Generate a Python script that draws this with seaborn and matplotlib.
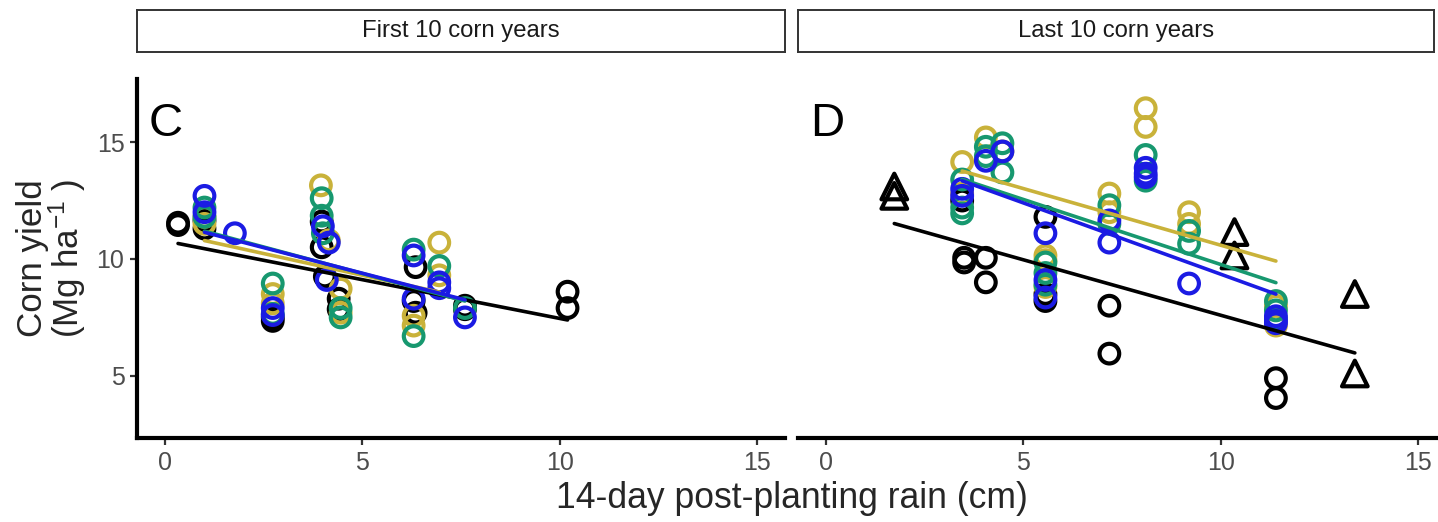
import numpy as np
import pandas as pd
import matplotlib
matplotlib.use("Agg")
import matplotlib.pyplot as plt
import seaborn as sns

# panel C - first 10 corn years (x = rain cm, y = yield Mg/ha)
c_black_x = [0.33, 0.33, 1.0, 1.0, 2.73, 2.73, 3.97, 3.97, 4.05, 4.40, 4.40, 6.35, 6.35, 6.30, 7.60, 7.60, 10.2, 10.2]
c_black_y = [11.55, 11.45, 11.65, 11.3, 7.5, 7.35, 11.6, 10.5, 9.25, 8.3, 7.85, 9.65, 7.7, 8.2, 8.0, 7.85, 8.6, 7.9]
c_gold_x = [1.0, 1.0, 2.73, 2.73, 3.95, 4.15, 4.45, 4.45, 6.3, 6.3, 6.95, 6.95]
c_gold_y = [11.8, 11.5, 8.5, 8.1, 13.15, 10.8, 8.73, 7.7, 7.57, 7.15, 10.7, 9.3]
c_green_x = [1.0, 1.0, 2.73, 2.73, 3.97, 3.97, 4.0, 4.45, 4.45, 6.3, 6.3, 6.95, 7.6]
c_green_y = [12.2, 11.8, 8.95, 7.65, 12.6, 11.85, 11.1, 7.9, 7.5, 10.4, 6.7, 9.7, 7.9]
c_blue_x = [1.0, 1.0, 1.77, 2.73, 2.73, 4.0, 4.1, 4.15, 6.3, 6.3, 6.95, 6.95, 7.6]
c_blue_y = [12.7, 12.0, 11.1, 7.9, 7.6, 11.4, 9.1, 10.7, 10.15, 8.3, 9.0, 8.75, 7.5]

# panel D - last 10 corn years
d_black_x = [3.45, 3.5, 3.5, 4.05, 4.05, 5.56, 5.56, 5.56, 7.18, 7.18, 11.4, 11.4]
d_black_y = [12.5, 10.05, 9.85, 10.05, 9.0, 11.8, 8.5, 8.2, 8.0, 5.95, 4.9, 4.05]
d_tri_x = [1.73, 1.73, 10.35, 10.35, 13.4, 13.4]
d_tri_y = [13.1, 12.7, 11.15, 10.15, 8.5, 5.1]
d_gold_x = [3.45, 3.45, 4.05, 4.47, 5.56, 5.56, 5.56, 7.18, 7.18, 8.1, 8.1, 9.2, 9.2, 11.4, 11.4]
d_gold_y = [14.15, 12.8, 15.2, 14.6, 10.15, 9.95, 8.8, 12.8, 12.0, 16.45, 15.65, 12.0, 11.5, 8.0, 7.15]
d_green_x = [3.45, 3.45, 3.45, 4.05, 4.05, 4.47, 4.47, 5.56, 5.56, 5.56, 7.18, 7.18, 8.1, 8.1, 9.2, 9.2, 11.4, 11.4, 11.4]
d_green_y = [13.4, 12.2, 11.95, 14.8, 14.4, 14.95, 13.7, 9.85, 9.4, 8.9, 12.3, 11.5, 14.45, 13.35, 11.2, 10.65, 8.2, 7.8, 7.45]
d_blue_x = [3.45, 3.45, 4.05, 4.47, 5.56, 5.56, 5.56, 7.18, 7.18, 8.1, 8.1, 8.1, 9.2, 11.4, 11.4, 11.4]
d_blue_y = [13.0, 12.7, 14.2, 14.6, 11.1, 9.1, 8.35, 11.65, 10.7, 13.9, 13.65, 13.5, 8.95, 7.55, 7.35, 7.25]

panel_titles = ["First 10 corn years", "Last 10 corn years"]
panel_letters = ["C", "D"]
x_ticks = [0, 5, 10, 15]
y_ticks = [5, 10, 15]

colors = {"black": "#000000", "gold": "#C9B23A", "green": "#17986F", "blue": "#1B1BE3"}


def to_frame(panel, group, shape, xs, ys):
    return pd.DataFrame({"panel": panel, "group": group, "shape": shape, "x": xs, "y": ys})


df = pd.concat([
    to_frame("C", "black", "o", c_black_x, c_black_y),
    to_frame("C", "gold", "o", c_gold_x, c_gold_y),
    to_frame("C", "green", "o", c_green_x, c_green_y),
    to_frame("C", "blue", "o", c_blue_x, c_blue_y),
    to_frame("D", "black", "o", d_black_x, d_black_y),
    to_frame("D", "black", "^", d_tri_x, d_tri_y),
    to_frame("D", "gold", "o", d_gold_x, d_gold_y),
    to_frame("D", "green", "o", d_green_x, d_green_y),
    to_frame("D", "blue", "o", d_blue_x, d_blue_y),
], ignore_index=True)

sns.set_style("ticks")
plt.rcParams["font.family"] = ["Liberation Sans", "DejaVu Sans"]
plt.rcParams["mathtext.default"] = "regular"

W, H = 1438, 522
fig = plt.figure(figsize=(W / 200, H / 200), dpi=200)

ax_left = [137 / W, 798 / W]
ax_w = 648 / W
ax_bottom = 1 - 438 / H
ax_h = 359 / H

for i, panel in enumerate(["C", "D"]):
    ax = fig.add_axes([ax_left[i], ax_bottom, ax_w, ax_h])
    pdf = df[df["panel"] == panel]

    # points
    for group in ["black", "gold", "green", "blue"]:
        for shape, s in [("o", 50), ("^", 85)]:
            sub = pdf[(pdf["group"] == group) & (pdf["shape"] == shape)]
            if len(sub) == 0:
                continue
            sns.scatterplot(data=sub, x="x", y="y", ax=ax, marker=shape, s=s,
                            color=colors[group], facecolors="none", edgecolor=colors[group],
                            linewidth=1.5, legend=False, zorder=3)

    # regression lines
    for group in ["black", "gold", "green", "blue"]:
        sub = pdf[pdf["group"] == group]
        sns.regplot(data=sub, x="x", y="y", ax=ax, scatter=False, ci=None, truncate=True,
                    color=colors[group], line_kws={"linewidth": 1.3, "zorder": 4})

    ax.set_xlim(-0.71, 15.71)
    ax.set_ylim(2.34, 17.7)
    ax.set_xticks(x_ticks)
    ax.set_yticks(y_ticks)
    ax.set_xlabel("")
    ax.set_ylabel("")
    ax.tick_params(axis="both", length=2.5, width=0.8, color="#333333",
                   labelsize=9, labelcolor="#4D4D4D", pad=2)
    for side in ["top", "right"]:
        ax.spines[side].set_visible(False)
    for side in ["bottom", "left"]:
        ax.spines[side].set_linewidth(1.5)
        ax.spines[side].set_color("black")
    if i == 1:
        ax.spines["left"].set_visible(False)
        ax.tick_params(axis="y", left=False, labelleft=False)

    ax.text(0.018, 0.875, panel_letters[i], transform=ax.transAxes, fontsize=17,
            ha="left", va="center", color="black")

    # facet strip
    strip_w = ax_w if i == 0 else (1434 - 798) / W
    sax = fig.add_axes([ax_left[i], 1 - 52 / H, strip_w, 42 / H])
    sax.set_xticks([])
    sax.set_yticks([])
    sax.set_facecolor("white")
    for sp in sax.spines.values():
        sp.set_linewidth(0.7)
        sp.set_color("#333333")
    sax.text(0.5, 0.5, panel_titles[i], ha="center", va="center", fontsize=8.6,
             color="#1A1A1A", transform=sax.transAxes)

fig.text(792 / W, 1 - 508 / H, "14-day post-planting rain (cm)", ha="center",
         va="baseline", fontsize=12.8)
fig.text(52 / W, 1 - 258 / H, "Corn yield\n(Mg ha$^{-1}$ )", rotation=90,
         ha="center", va="center", multialignment="center", fontsize=12.6,
         linespacing=0.95)

fig.savefig("out.png", dpi=200)
